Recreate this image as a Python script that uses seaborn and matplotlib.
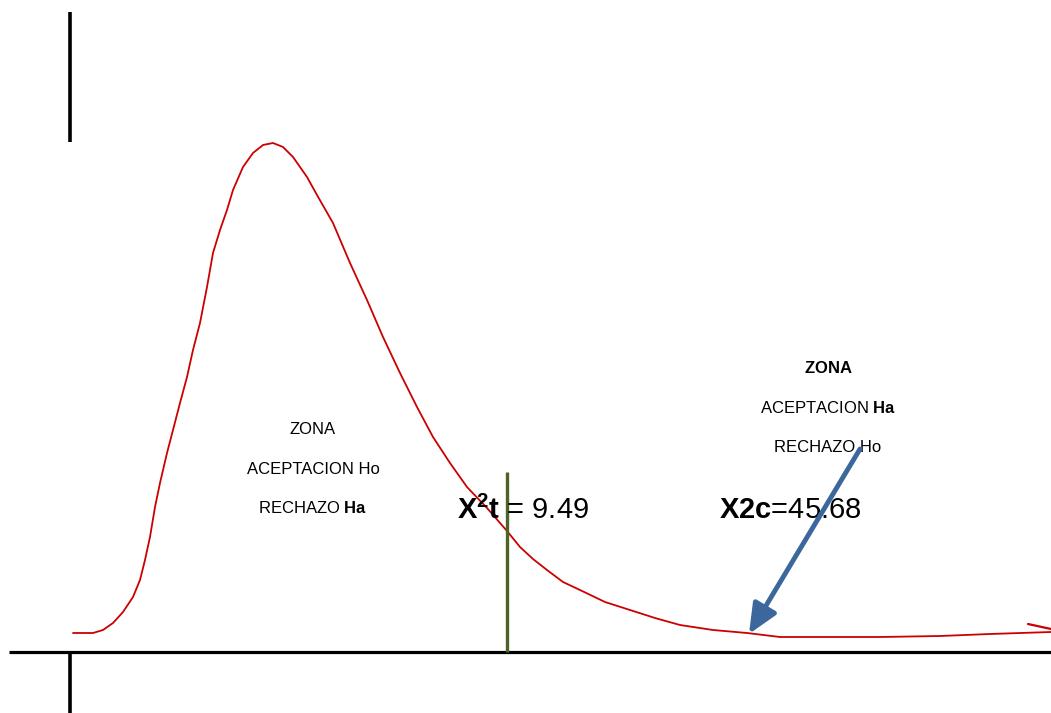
import matplotlib
matplotlib.use("Agg")
import matplotlib.pyplot as plt
import seaborn as sns
import pandas as pd

# curve (x position, height above the axis)
curve_x = [73, 93, 103, 113, 123, 133, 140, 145, 150, 155, 160, 167, 173, 180, 187,
           193, 200, 207, 213, 220, 227, 233, 243, 253, 263, 273, 283, 293, 300, 307,
           317, 333, 350, 367, 383, 400, 417, 433, 450, 467, 487, 507, 520, 533, 547,
           563, 580, 605, 630, 655, 680, 713, 747, 780, 820, 880, 940, 990, 1051]
curve_h = [19, 19, 22, 29, 40, 55, 72, 92, 115, 145, 169, 199, 222, 249, 275,
           302, 329, 365, 399, 422, 442, 462, 485, 499, 507, 509, 505, 495, 485, 475,
           457, 429, 389, 352, 315, 279, 245, 215, 189, 165, 144, 121, 105, 93, 82,
           70, 62, 50, 42, 34, 27, 22, 19, 15, 15, 15, 16, 18, 20]
tail_x = [1028, 1051]
tail_h = [28, 23]

chi_tabla = "9.49"
chi_calc = "45.68"
izq_lineas = ["ZONA", "ACEPTACION Ho", r"RECHAZO $\mathbf{Ha}$"]
der_lineas = [r"$\mathbf{ZONA}$", r"ACEPTACION $\mathbf{Ha}$", "RECHAZO Ho"]

sns.set_style("white")
plt.rcParams['font.family'] = ['Liberation Sans', 'DejaVu Sans']
plt.rcParams['text.color'] = 'black'
plt.rcParams['mathtext.fontset'] = 'custom'
plt.rcParams['mathtext.rm'] = 'Liberation Sans'
plt.rcParams['mathtext.bf'] = 'Liberation Sans:bold'

fig = plt.figure(figsize=(10.51, 7.13), dpi=100)
ax = fig.add_axes([0, 0, 1, 1])

df = pd.DataFrame({"x": curve_x, "h": curve_h})
sns.lineplot(data=df, x="x", y="h", ax=ax, color="#CC0000", lw=1.3, sort=False)
sns.lineplot(x=tail_x, y=tail_h, ax=ax, color="#CC0000", lw=1.6)

# axes drawn by hand like the original sketch
ax.plot([9, 1051], [0, 0], color="black", lw=2.3, solid_capstyle="butt")
ax.plot([70, 70], [640, 510], color="black", lw=2.6, solid_capstyle="butt")
ax.plot([70, 70], [0, -61], color="black", lw=2.6, solid_capstyle="butt")

# critical value line
ax.plot([507, 507], [0, 180], color="#4F6228", lw=2.4, solid_capstyle="butt")

for i, t in enumerate(izq_lineas):
    ax.text(313, 222 - i * 39, t, ha="center", va="center", fontsize=12)
for i, t in enumerate(der_lineas):
    ax.text(828, 284 - i * 40, t, ha="center", va="center", fontsize=12)

ax.text(523, 142, r"$\mathbf{X^{2}t}$ = " + chi_tabla, ha="center", va="center", fontsize=21)
ax.text(790, 142, r"$\mathbf{X2c}$=" + chi_calc, ha="center", va="center", fontsize=21)

ax.annotate("", xy=(749, 18), xytext=(860, 203),
            arrowprops=dict(arrowstyle="-|>,head_length=0.9,head_width=0.4",
                            color="#3C679C", lw=3.5, mutation_scale=20,
                            shrinkA=0, shrinkB=0), zorder=5)

ax.set_xlim(0, 1051)
ax.set_ylim(-61, 652)
ax.axis("off")

fig.savefig("out.png", dpi=100)
